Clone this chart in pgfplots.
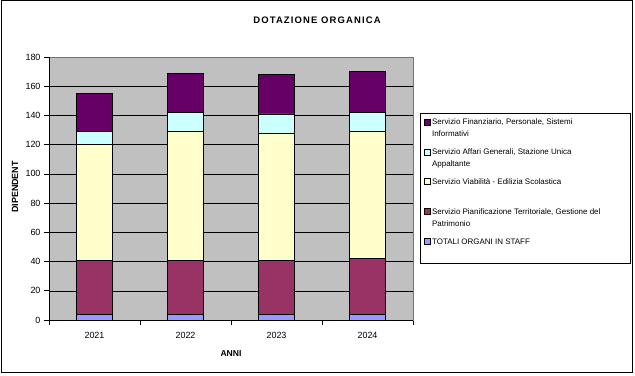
\documentclass[border=0pt]{standalone}
\usepackage{pgfplots}
\pgfplotsset{compat=1.18}
\usepackage{fontspec}
\setmainfont{Liberation Sans}
\newfontfamily\titlefont[LetterSpace=12]{Liberation Sans}
\definecolor{cStaff}{HTML}{9999FF}
\definecolor{cPian}{HTML}{993366}
\definecolor{cViab}{HTML}{FFFFCC}
\definecolor{cAff}{HTML}{CCFFFF}
\definecolor{cFin}{HTML}{660066}
\definecolor{plotbg}{HTML}{C0C0C0}
\newcommand{\legtxt}[1]{\begin{tabular}[t]{@{}l@{}}#1\end{tabular}}
\begin{document}
\begin{tikzpicture}[x=1bp,y=1bp]
\path[use as bounding box] (0,0) rectangle (635,375);
\draw[black, line width=1bp] (1,3) rectangle (632,374);
\node[font=\titlefont\bfseries\fontsize{9.5}{11}\selectfont] at (317,355) {DOTAZIONE ORGANICA};
\node[font=\bfseries\fontsize{8.6}{10}\selectfont] at (231,21) {ANNI};
\node[font=\bfseries\fontsize{9}{10}\selectfont, rotate=90] at (15,188) {DIPENDENT};
\draw[black, line width=0.8bp] (420,112) rectangle (630,262);
\begin{axis}[
  at={(49bp,55bp)}, anchor=south west,
  scale only axis, width=364bp, height=263bp,
  ybar stacked, bar width=0.4,
  xmin=0.5, xmax=4.5, ymin=0, ymax=180,
  ytick={0,20,...,180},
  xtick={1,2,3,4}, xticklabels={2021,2022,2023,2024},
  minor xtick={0.5,1.5,2.5,3.5,4.5},
  xtick pos=lower, ytick pos=left,
  tick align=outside,
  major tick length=5bp, minor tick length=5bp,
  major x tick style={draw=none},
  tick style={black, line width=0.6bp},
  ymajorgrids, grid style={black, line width=0.5bp},
  axis background/.style={fill=plotbg},
  axis line style={black!55, line width=0.8bp},
  /pgf/number format/assume math mode=true,
  ticklabel style={font=\fontsize{9}{10}\selectfont},
  xticklabel style={yshift=-4bp},
  reverse legend,
  legend image code/.code={\draw[#1, line width=0.4bp] (0bp,0bp) rectangle (6bp,6bp);},
  legend style={at={(1.0302,0.780)}, anchor=north west, draw=none, fill=none,
    font=\fontsize{8}{12}\selectfont, cells={anchor=base west},
    row sep=17bp, inner sep=0pt, nodes={inner sep=1.5bp}},
]
\addplot[fill=cStaff, draw=black, line width=0.7bp] coordinates {(1,4) (2,4) (3,4) (4,4)};
\addlegendentry{\legtxt{TOTALI ORGANI IN STAFF}}
\addplot[fill=cPian, draw=black, line width=0.7bp] coordinates {(1,37) (2,37) (3,37) (4,38)};
\addlegendentry{\legtxt{Servizio Pianificazione Territoriale, Gestione del\\Patrimonio}}
\addplot[fill=cViab, draw=black, line width=0.7bp] coordinates {(1,79) (2,88) (3,87) (4,87)};
\addlegendentry{\legtxt{Servizio Viabilità - Edilizia Scolastica}}
\addplot[fill=cAff, draw=black, line width=0.7bp] coordinates {(1,9) (2,13) (3,13) (4,13)};
\addlegendentry{\legtxt{Servizio Affari Generali, Stazione Unica\\Appaltante}}
\addplot[fill=cFin, draw=black, line width=0.7bp] coordinates {(1,26) (2,27) (3,27) (4,28)};
\addlegendentry{\legtxt{Servizio Finanziario, Personale, Sistemi\\Informativi}}
\draw[black, line width=0.8bp] (axis cs:0.5,0) -- (axis cs:0.5,180);
\draw[black, line width=0.8bp] (axis cs:0.5,0) -- (axis cs:4.5,0);
\end{axis}
\end{tikzpicture}
\end{document}
